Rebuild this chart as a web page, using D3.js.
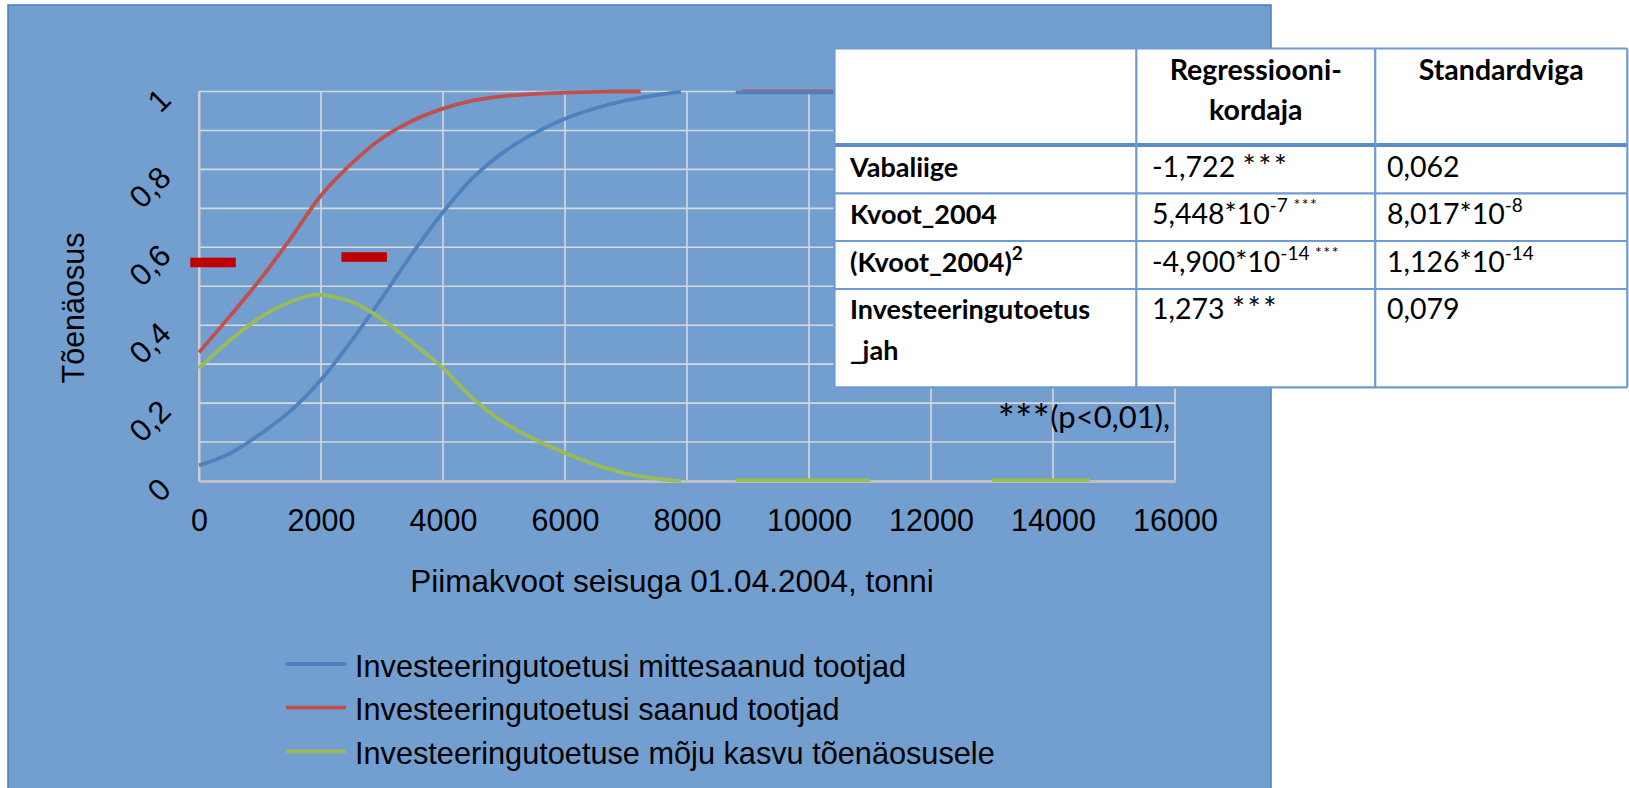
<!DOCTYPE html>
<html>
<head>
<meta charset="utf-8">
<script src="https://cdn.jsdelivr.net/npm/d3@7"></script>
<style>
  html, body { margin: 0; padding: 0; background: #ffffff; }
  svg { display: block; }
</style>
</head>
<body>
<svg id="chart" width="1629" height="788"></svg>
<script>
// ---------------- DATA ----------------
const quotaTicks = [0, 2000, 4000, 6000, 8000, 10000, 12000, 14000, 16000];
const probTicks = [0, 0.2, 0.4, 0.6, 0.8, 1];
const probGrid = [0, 0.1, 0.2, 0.3, 0.4, 0.5, 0.6, 0.7, 0.8, 0.9, 1];

const seriesNames = [
  "Investeeringutoetusi mittesaanud tootjad",
  "Investeeringutoetusi saanud tootjad",
  "Investeeringutoetuse mõju kasvu tõenäosusele"
];

// Series 1: producers without investment support (null = gap in line)
const quotaBlue = [0, 500, 1000, 1500, 2000, 2500, 3000, 3500, 4000, 4500, 5000, 5500, 6000, 6500, 7000, 7500, 7900, 8300, 8800, 9500, 10000, 10500, 11000, 12000, 13000, 13500, 14000, 14600];
const probBlue  = [0.04, 0.07, 0.12, 0.18, 0.26, 0.36, 0.47, 0.585, 0.69, 0.78, 0.845, 0.893, 0.93, 0.957, 0.977, 0.991, 0.999, null, 0.998, 0.998, 0.998, 0.998, 0.998, null, 0.998, 0.998, 0.998, 0.998];

// Series 2: producers with investment support
const quotaRed = [0, 500, 1000, 1500, 2000, 2500, 3000, 3500, 4000, 4500, 5000, 5500, 6000, 6500, 7000, 7240, 8000, 8900, 9500, 10000, 10500, 11000, 12000, 13000, 13500, 14000, 14600];
const probRed  = [0.33, 0.422, 0.517, 0.622, 0.733, 0.815, 0.88, 0.925, 0.956, 0.977, 0.988, 0.994, 0.997, 0.999, 1.0, 1.0, null, 1.0, 1.0, 1.0, 1.0, 1.0, null, 1.0, 1.0, 1.0, 1.0];

// Series 3: effect of investment support on growth probability
const quotaGreen = [0, 500, 1000, 1500, 1900, 2500, 3000, 3500, 4000, 4500, 5000, 5500, 6000, 6500, 7000, 7500, 7900, 8300, 8800, 9500, 10000, 10500, 11000, 12000, 13000, 13500, 14000, 14600];
const probGreen  = [0.29, 0.36, 0.42, 0.46, 0.478, 0.46, 0.415, 0.355, 0.29, 0.21, 0.15, 0.107, 0.072, 0.042, 0.019, 0.006, 0.0, null, 0.002, 0.002, 0.002, 0.002, 0.002, null, 0.002, 0.002, 0.002, 0.002];

// Dark red dash markers (centre position in data units)
const markerQuota = [230, 2708];
const markerProb  = [0.561, 0.575];

// Regression table
const tableHeader = [["", ""], ["Regressiooni-", "kordaja"], ["Standardviga", ""]];
const rowLabels = [
  [[{t: "Vabaliige"}]],
  [[{t: "Kvoot_2004"}]],
  [[{t: "(Kvoot_2004)"}, {t: "2", sup: true}]],
  [[{t: "Investeeringutoetus"}], [{t: "_jah"}]]
];
const coefValues = [
  [{t: "-1,722 "}, {t: "***", star: true}],
  [{t: "5,448*10"}, {t: "-7", sup: true}, {t: " ***", sup: true, small: true}],
  [{t: "-4,900*10"}, {t: "-14", sup: true}, {t: " ***", sup: true, small: true}],
  [{t: "1,273 "}, {t: "***", star: true}]
];
const stdErrValues = [
  [{t: "0,062"}],
  [{t: "8,017*10"}, {t: "-8", sup: true}],
  [{t: "1,126*10"}, {t: "-14", sup: true}],
  [{t: "0,079"}]
];
const footnote = "***(p<0,01),";

const xTitle = "Piimakvoot seisuga 01.04.2004, tonni";
const yTitle = "Tõenäosus";

// ---------------- DRAW ----------------
const svg = d3.select("#chart");
const colors = ["#4F81BD", "#C0504D", "#9BBB59"];
const axisFont = "'Liberation Sans', Arial, sans-serif";
const tableFont = "Lato, 'Open Sans', sans-serif";

// chart area background
svg.append("rect").attr("x", 8).attr("y", 5).attr("width", 1263).attr("height", 800)
  .attr("fill", "#729FCF").attr("stroke", "#4A7DBB").attr("stroke-width", 1.5);

const x = d3.scaleLinear().domain([0, 16000]).range([199, 1175]);
const y = d3.scaleLinear().domain([0, 1]).range([481, 91.5]);

// gridlines
svg.append("g").selectAll("line").data(probGrid).join("line")
  .attr("x1", x(0)).attr("x2", x(16000))
  .attr("y1", d => y(d)).attr("y2", d => y(d))
  .attr("stroke", "#D9D9D9").attr("stroke-width", 1.6);
svg.append("g").selectAll("line").data(quotaTicks).join("line")
  .attr("x1", d => x(d)).attr("x2", d => x(d))
  .attr("y1", y(0)).attr("y2", y(1))
  .attr("stroke", "#D9D9D9").attr("stroke-width", 1.6);

// x axis
const xAxis = svg.append("g").attr("transform", `translate(0,${y(0)})`)
  .call(d3.axisBottom(x).tickValues(quotaTicks).tickFormat(d3.format("d")).tickSize(0).tickSizeOuter(0));
xAxis.select(".domain").attr("stroke", "#BFBFBF").attr("stroke-width", 3);
xAxis.selectAll("text").attr("y", 50).attr("dy", null)
  .attr("font-family", axisFont).attr("font-size", 30.5).attr("fill", "#000");

// y axis
const yAxis = svg.append("g").attr("transform", `translate(${x(0)},0)`)
  .call(d3.axisLeft(y).tickValues(probTicks).tickFormat(d => String(d).replace(".", ",")).tickSize(0).tickSizeOuter(0));
yAxis.select(".domain").attr("stroke", "#D0D0D0").attr("stroke-width", 2);
yAxis.selectAll("text")
  .attr("x", 0).attr("dy", "0.35em")
  .attr("transform", "translate(-34,2) rotate(-45)")
  .attr("text-anchor", "end")
  .attr("font-family", axisFont).attr("font-size", 31).attr("fill", "#000");

// axis titles
svg.append("text").attr("x", 672).attr("y", 592).attr("text-anchor", "middle")
  .attr("font-family", axisFont).attr("font-size", 31.5).attr("fill", "#000").text(xTitle);
svg.append("text").attr("transform", "translate(84,308) rotate(-90)").attr("text-anchor", "middle")
  .attr("font-family", axisFont).attr("font-size", 30.5).attr("fill", "#000").text(yTitle);

// series lines
const seriesData = [
  quotaBlue.map((q, i) => ({q, p: probBlue[i]})),
  quotaRed.map((q, i) => ({q, p: probRed[i]})),
  quotaGreen.map((q, i) => ({q, p: probGreen[i]}))
];
const line = d3.line().defined(d => d.p !== null)
  .x(d => x(d.q)).y(d => y(d.p)).curve(d3.curveCatmullRom.alpha(0.5));
const drawOrder = [1, 0, 2];
drawOrder.forEach(i => {
  svg.append("path").datum(seriesData[i]).attr("d", line)
    .attr("fill", "none").attr("stroke", colors[i]).attr("stroke-width", 3.8)
    .attr("stroke-linejoin", "round");
});

// dark red markers
svg.append("g").selectAll("rect").data(markerQuota.map((q, i) => ({q, p: markerProb[i]}))).join("rect")
  .attr("x", d => x(d.q) - 22.75).attr("y", d => y(d.p) - 4.8)
  .attr("width", 45.5).attr("height", 9.6).attr("fill", "#C00000");

// legend
const legend = svg.append("g");
seriesNames.forEach((name, i) => {
  const ly = 664 + i * 43.7;
  legend.append("line").attr("x1", 286).attr("x2", 346).attr("y1", ly).attr("y2", ly)
    .attr("stroke", colors[i]).attr("stroke-width", 3.8);
  legend.append("text").attr("x", 355).attr("y", ly + 12.5)
    .attr("font-family", axisFont).attr("font-size", 30.7).attr("fill", "#000").text(name);
});

// footnote
svg.append("text").attr("x", 1170).attr("y", 428).attr("text-anchor", "end")
  .attr("font-family", tableFont).attr("font-size", 31).attr("fill", "#000")
  .call(t => {
    t.append("tspan").attr("font-size", 40).attr("letter-spacing", 0.5).attr("dy", 6).text(footnote.slice(0, 3));
    t.append("tspan").attr("dy", -6).text(footnote.slice(3));
  });

// ---------------- TABLE ----------------
const colX = [834.5, 1136.3, 1375.2, 1627.3];
const rowY = [48.5, 145, 193.3, 241, 289, 387.3];
const tbl = svg.append("g");
tbl.append("rect").attr("x", colX[0]).attr("y", rowY[0]).attr("width", colX[3] - colX[0]).attr("height", rowY[5] - rowY[0])
  .attr("fill", "#ffffff");
const lineColor = "#6E9BD3";
rowY.forEach((ry, i) => {
  tbl.append("line").attr("x1", colX[0]).attr("x2", colX[3]).attr("y1", ry).attr("y2", ry)
    .attr("stroke", i === 1 ? "#5B8CCA" : lineColor).attr("stroke-width", i === 1 ? 4 : 2.2);
});
colX.forEach(cx => {
  tbl.append("line").attr("x1", cx).attr("x2", cx).attr("y1", rowY[0]).attr("y2", rowY[5])
    .attr("stroke", lineColor).attr("stroke-width", 2.2);
});

// header text
const headBase = [79.5, 120];
tableHeader.forEach((lines, c) => {
  lines.forEach((t, li) => {
    if (!t) return;
    tbl.append("text").attr("x", (colX[c] + colX[c + 1]) / 2).attr("y", headBase[li])
      .attr("text-anchor", "middle").attr("font-family", tableFont).attr("font-weight", "bold")
      .attr("font-size", 28.5).attr("fill", "#000").text(t);
  });
});

const rowBase = [[177], [223.5], [272], [319, 360]];
const cellX = [850, 1152, 1387];
function writeCell(xp, yp, parts, bold) {
  const t = tbl.append("text").attr("x", xp).attr("y", yp)
    .attr("font-family", tableFont).attr("font-size", bold ? 27 : 28.5)
    .attr("font-weight", bold ? "bold" : "normal").attr("fill", "#000");
  parts.forEach(p => {
    const ts = t.append("tspan").text(p.t);
    if (p.sup) {
      ts.attr("font-size", p.small ? 16 : 19).attr("baseline-shift", p.small ? "85%" : "65%");
      if (p.small) ts.attr("letter-spacing", 1.5);
    }
    if (p.star) ts.attr("font-size", 31).attr("letter-spacing", 2.5);
  });
}
rowLabels.forEach((lines, r) => {
  lines.forEach((parts, li) => writeCell(cellX[0], rowBase[r][li], parts, true));
});
coefValues.forEach((parts, r) => writeCell(cellX[1], rowBase[r][0], parts, false));
stdErrValues.forEach((parts, r) => writeCell(cellX[2], rowBase[r][0], parts, false));
</script>
</body>
</html>
